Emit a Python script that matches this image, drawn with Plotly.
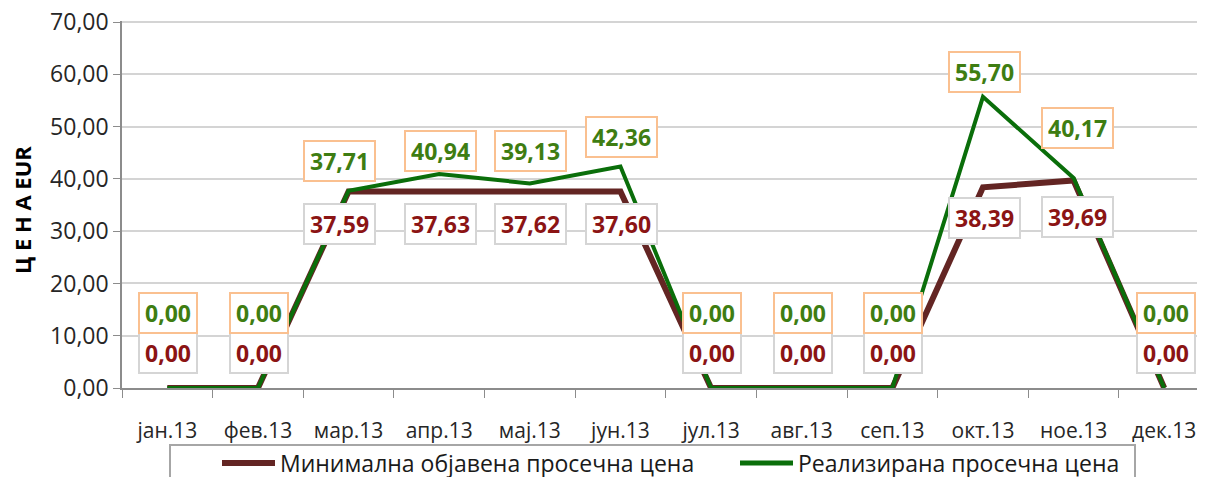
import plotly.graph_objects as go

months = ["јан.13", "фев.13", "мар.13", "апр.13", "мај.13", "јун.13",
          "јул.13", "авг.13", "сеп.13", "окт.13", "ное.13", "дек.13"]
min_price = [0.00, 0.00, 37.59, 37.63, 37.62, 37.60, 0.00, 0.00, 0.00, 38.39, 39.69, 0.00]
real_price = [0.00, 0.00, 37.71, 40.94, 39.13, 42.36, 0.00, 0.00, 0.00, 55.70, 40.17, 0.00]
yticks = [0, 10, 20, 30, 40, 50, 60, 70]
ytick_text = ["0,00", "10,00", "20,00", "30,00", "40,00", "50,00", "60,00", "70,00"]
series_names = ["Минимална објавена просечна цена", "Реализирана просечна цена"]

# label pixel offsets (layout only)
green_shift = [75, 75, 30, 23, 32, 30, 75, 75, 75, 25, 50, 75]
brown_shift = [35, 35, -33, -33, -33, -33, 35, 35, 35, -31, -36, 35]
x_shift = [1, 1, -9, 1, 1, 1, 1, 1, 1, 2, 4, 2]

BROWN = "#632523"
GREEN = "#0A6E0A"
FONT = "Open Sans"

OFF = 8  # page body margin offset
# target page-pixel geometry of the plot area
L, T, B, R = 122, 21, 388, 1205
W, H = 1205, 477
PW = R - L
PH = B - T

def px_x(px):
    return (px - L) / PW

def px_y(py):
    return (B - py) / PH

def fmt(v):
    return f"{v:.2f}".replace(".", ",")

fig = go.Figure()
fig.add_trace(go.Scatter(x=months, y=min_price, mode="lines", name=series_names[0],
                         line=dict(color=BROWN, width=6), showlegend=False))
fig.add_trace(go.Scatter(x=months, y=real_price, mode="lines", name=series_names[1],
                         line=dict(color=GREEN, width=4), showlegend=False))

for i, m in enumerate(months):
    fig.add_annotation(x=m, y=min_price[i], xref="x", yref="y", text=fmt(min_price[i]),
                       showarrow=False, yshift=brown_shift[i], xshift=x_shift[i],
                       height=28,
                       font=dict(family=FONT, size=23, color="#8B1414", weight="bold"),
                       bgcolor="white", bordercolor="#D5D5D5", borderwidth=2, borderpad=5)
    fig.add_annotation(x=m, y=real_price[i], xref="x", yref="y", text=fmt(real_price[i]),
                       showarrow=False, yshift=green_shift[i], xshift=x_shift[i],
                       height=28,
                       font=dict(family=FONT, size=23, color="#3E7D12", weight="bold"),
                       bgcolor="white", bordercolor="#FAC090", borderwidth=2, borderpad=5)

# y-axis title
fig.add_annotation(x=px_x(22), y=px_y(210), xref="paper", yref="paper", text="Ц Е Н А EUR",
                   textangle=-90, showarrow=False, xanchor="center", yanchor="middle",
                   font=dict(family=FONT, size=22, color="black", weight="bold"))

# manual legend
fig.add_shape(type="rect", xref="paper", yref="paper",
              x0=px_x(170), x1=px_x(1135), y0=px_y(445), y1=px_y(500),
              line=dict(color="#A6A6A6", width=2), fillcolor="white", layer="above")
legend_items = [(222, 275, 278, BROWN, 6), (740, 793, 796, GREEN, 5)]
for (lx0, lx1, tx, col, w), nm in zip(legend_items, series_names):
    fig.add_shape(type="line", xref="paper", yref="paper",
                  x0=px_x(lx0), x1=px_x(lx1), y0=px_y(463), y1=px_y(463),
                  line=dict(color=col, width=w), layer="above")
    fig.add_annotation(x=px_x(tx), y=px_y(463), xref="paper", yref="paper", text=nm,
                       showarrow=False, xanchor="left", yanchor="middle",
                       font=dict(family=FONT, size=23, color="#1a1a1a"))

fig.update_layout(
    width=W, height=H,
    margin=dict(l=L - OFF, r=OFF + (W - R), t=T - OFF, b=H - B + OFF, autoexpand=False),
    paper_bgcolor="white", plot_bgcolor="white",
    font=dict(family=FONT, color="#262626"),
    showlegend=False,
    xaxis=dict(type="category", range=[-0.5, 11.45], showgrid=False, automargin=False,
               showline=True, linecolor="#8C8C8C", linewidth=1.5,
               ticks="outside", ticklen=8, tickcolor="#8C8C8C", tickson="boundaries",
               tickfont=dict(family=FONT, size=21, color="#262626"),
               ticklabelstandoff=23),
    yaxis=dict(range=[0, 70.2], tickvals=yticks, ticktext=ytick_text, automargin=False,
               ticklabeloverflow="allow",
               showgrid=True, gridcolor="#D4D4D4", gridwidth=1.5,
               showline=True, linecolor="#8C8C8C", linewidth=1.5,
               ticks="outside", ticklen=7, tickcolor="#8C8C8C",
               tickfont=dict(family=FONT, size=23, color="#262626")),
)

fig.write_html("out.html")
